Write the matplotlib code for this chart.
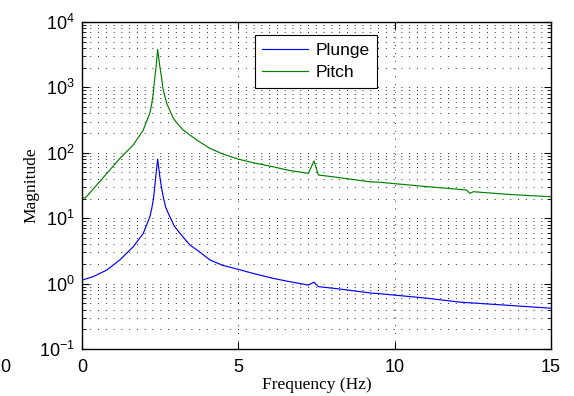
import matplotlib
matplotlib.use('Agg')
import matplotlib.pyplot as plt
from matplotlib.ticker import LogLocator, NullFormatter

# Frequency response magnitudes
freq_plunge = [0, 0.36, 0.79, 1.21, 1.64, 1.96, 2.05, 2.17, 2.23, 2.28, 2.32, 2.37,
               2.42, 2.49, 2.54, 2.6, 2.68, 2.81, 2.95, 3.13, 3.45, 3.75, 4.09,
               4.5, 5.0, 5.5, 6.12, 6.6, 7.24, 7.42, 7.56, 8.3, 9.21, 9.53, 11,
               12.1, 13.5, 15]
mag_plunge = [1.13, 1.28, 1.61, 2.30, 3.67, 5.86, 7.5, 10.5, 14, 19, 28, 48.5,
              80, 43, 30, 21, 14.5, 10.5, 7.6, 5.9, 3.89, 3.08, 2.30,
              1.9, 1.65, 1.42, 1.20, 1.08, 0.95, 1.05, 0.90, 0.82, 0.72, 0.70, 0.60,
              0.52, 0.47, 0.42]

freq_pitch = [0, 0.1, 0.36, 0.79, 1.21, 1.64, 1.96, 2.05, 2.17, 2.23, 2.28, 2.32,
              2.37, 2.42, 2.49, 2.54, 2.58, 2.64, 2.71, 2.92, 3.05, 3.24, 3.45,
              3.75, 4.09, 4.5, 5.0, 5.5, 6.12, 6.6, 7.24, 7.42, 7.56, 8.25, 9.21,
              9.53, 11, 12.3, 12.4, 12.52, 13.7, 15]
mag_pitch = [21, 20.2, 28, 48, 82, 132, 223, 290, 402, 560, 813, 1300,
             2075, 3820, 2075, 1460, 1025, 760, 571, 337, 280, 223, 187,
             148, 117, 96, 80, 70, 61, 54, 48.5, 75, 45.8, 41.6, 36,
             35.4, 30.5, 27, 24, 25.4, 23, 21.3]

series_names = ['Plunge', 'Pitch']
x_ticks = [0, 5, 10, 15]

plt.rcParams['font.family'] = ['Liberation Sans', 'DejaVu Sans']
plt.rcParams['mathtext.fontset'] = 'custom'
plt.rcParams['mathtext.rm'] = 'Liberation Sans'

fig = plt.figure(figsize=(5.74, 3.96), dpi=100)
ax = fig.add_axes([82/574, 1 - 349/396, 469/574, 327/396])

ax.plot(freq_plunge, mag_plunge, color=(0, 0, 1), lw=0.85, label=series_names[0])
ax.plot(freq_pitch, mag_pitch, color=(0, 0.5, 0), lw=0.85, label=series_names[1])

ax.set_yscale('log')
ax.set_xlim(0, 15)
ax.set_ylim(1e-1, 1e4)
ax.set_xticks(x_ticks)
ax.yaxis.set_major_locator(LogLocator(base=10, numticks=10))
ax.yaxis.set_minor_locator(LogLocator(base=10, subs=range(2, 10), numticks=20))
ax.yaxis.set_minor_formatter(NullFormatter())

ax.grid(True, which='major', axis='x', color='0.15', linestyle=(0, (1, 7)), lw=0.7)
ax.grid(True, which='both', axis='y', color='0.15', linestyle=(0, (1, 7)), lw=0.7)

ax.tick_params(which='both', direction='in', top=True, right=True, labelsize=13)
ax.tick_params(which='major', length=5, width=0.8)
ax.tick_params(which='minor', length=3, width=0.6)
ax.tick_params(axis='x', pad=7)
ax.tick_params(axis='y', pad=5)
for s in ax.spines.values():
    s.set_linewidth(1.0)

ax.set_xlabel('Frequency (Hz)', family='Liberation Serif', fontsize=12.5, labelpad=1)
ax.set_ylabel('Magnitude', family='Liberation Serif', fontsize=12.5, labelpad=0)

leg = ax.legend(loc='upper left', bbox_to_anchor=(0.368, 0.96), fontsize=12.5,
                frameon=True, fancybox=False, framealpha=1, edgecolor='black',
                borderpad=0.45, labelspacing=0.4, handlelength=2.6, handletextpad=0.45,
                borderaxespad=0)
leg.get_frame().set_linewidth(0.8)

# stray tick label at the left edge of the original export
fig.text(0.0, 1 - 368/396, '0', fontsize=13, ha='left', va='center')

fig.savefig('out.png', dpi=100)
